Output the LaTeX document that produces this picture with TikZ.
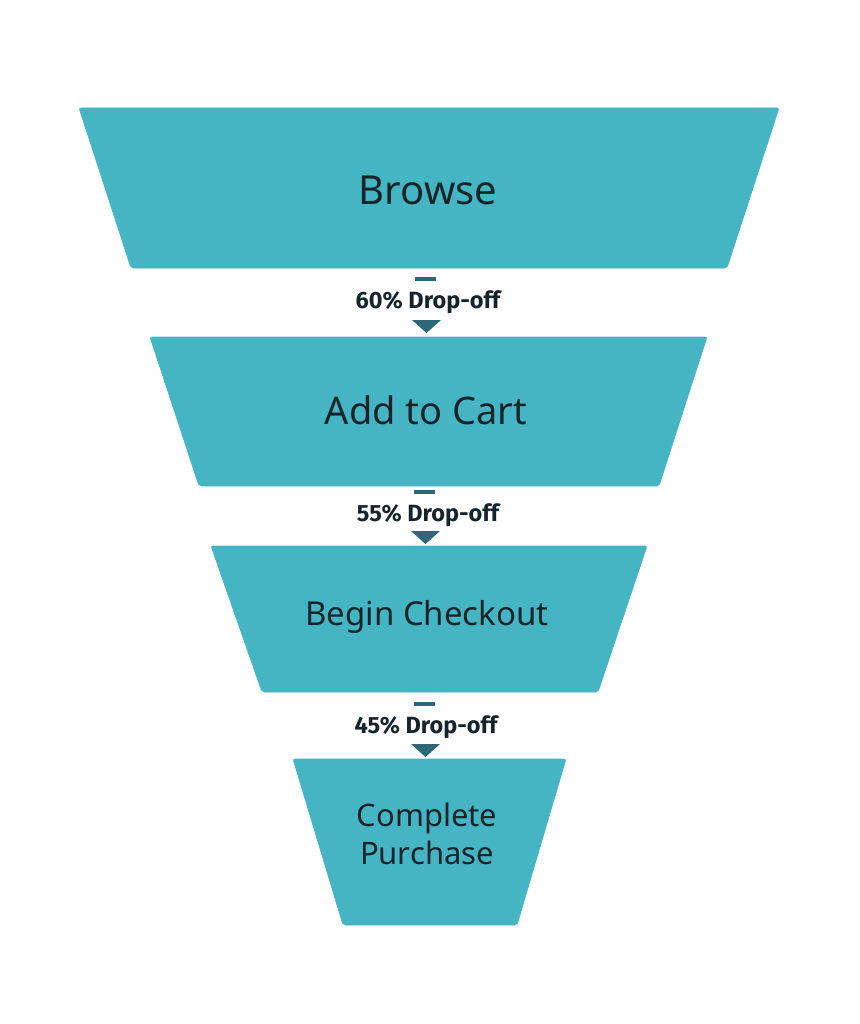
\documentclass[tikz,border=0pt]{standalone}
\usepackage{fontspec}
\setmainfont{Noto Sans}
\newfontfamily\dropfont{Fira Sans}
\definecolor{funnel}{HTML}{45B5C3}
\definecolor{darkteal}{HTML}{2E6878}
\definecolor{ink}{HTML}{15242B}
\begin{document}
\begin{tikzpicture}[x=1pt,y=-1pt,
  stage/.style={fill=funnel,draw=funnel,line width=0.6pt,rounded corners=2pt},
  stagelabel/.style={text=ink,align=center,font=\fontsize{36}{40}\selectfont},
  droplabel/.style={text=ink,font=\dropfont\bfseries\fontsize{23.5}{26}\selectfont,inner sep=0pt},
  dashmark/.style={fill=darkteal,minimum width=21pt,minimum height=4pt,inner sep=0pt},
  tri/.style={fill=darkteal,draw=none}]
\useasboundingbox (0,0) rectangle (859,1024);
% stages
\draw[stage] (79,108) -- (779,108) -- (727,268) -- (131,268) -- cycle;
\node[stagelabel,font=\fontsize{40}{44}\selectfont] (s1) at (428,190) {Browse};
\draw[stage] (150,337) -- (707,337) -- (659,486) -- (199,486) -- cycle;
\node[stagelabel,font=\fontsize{38}{42}\selectfont] (s2) at (426,410) {Add to Cart};
\draw[stage] (211,546) -- (647,546) -- (598,692) -- (262,692) -- cycle;
\node[stagelabel,font=\fontsize{33}{37}\selectfont] (s3) at (427,617) {Begin Checkout};
\draw[stage] (293,759) -- (566,759) -- (517,925) -- (343,925) -- cycle;
\node[stagelabel,font=\fontsize{31}{38}\selectfont] (s4) at (427,834) {Complete\\Purchase};
% drop-offs
\node[dashmark] (d1) at (425.5,279) {};
\node[droplabel] (l1) at (428,302) {60\% Drop-off};
\coordinate (t1) at (426.5,333);
\fill[tri] (412,320) -- (441,320) -- (t1) -- cycle;
\node[dashmark] (d2) at (424.5,492) {};
\node[droplabel] (l2) at (428,515) {55\% Drop-off};
\coordinate (t2) at (425.5,544);
\fill[tri] (411,531) -- (440,531) -- (t2) -- cycle;
\node[dashmark] (d3) at (424.5,704) {};
\node[droplabel] (l3) at (426,727) {45\% Drop-off};
\coordinate (t3) at (425.5,757);
\fill[tri] (411,744) -- (440,744) -- (t3) -- cycle;
\end{tikzpicture}
\end{document}
